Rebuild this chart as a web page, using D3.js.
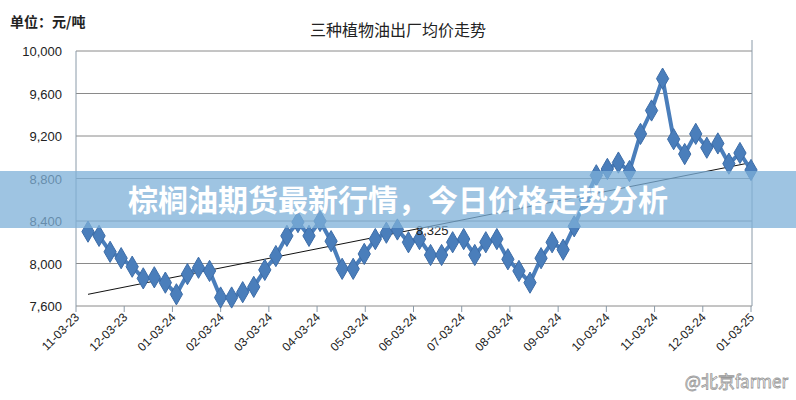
<!DOCTYPE html><html><head><meta charset="utf-8"><script src="https://cdn.jsdelivr.net/npm/d3@7"></script>
<style>body{margin:0;background:#fff}</style></head><body><svg id="c" width="796" height="400"></svg><script>
const values=[8300,8260,8110,8050,7970,7860,7870,7820,7710,7900,7960,7930,7680,7680,7730,7780,7940,8070,8260,8390,8260,8400,8210,7950,7950,8090,8230,8290,8320,8200,8230,8080,8080,8200,8230,8080,8200,8230,8040,7930,7820,8050,8200,8130,8350,8600,8830,8890,8950,8870,9220,9440,9740,9170,9030,9220,9090,9130,8940,9040,8880];
const monthLabels=["11-03-23","12-03-23","01-03-24","02-03-24","03-03-24","04-03-24","05-03-24","06-03-24","07-03-24","08-03-24","09-03-24","10-03-24","11-03-24","12-03-24","01-03-25"];
const yTicks=[7600,8000,8400,8800,9200,9600,10000];
const trend=[7710,8950];
const svg=d3.select("#c");
const y=d3.scaleLinear().domain([7600,10000]).range([306,51]);
const x=d3.scaleLinear().domain([0,values.length-1]).range([88,751]);
const xt=d3.scalePoint().domain(monthLabels).range([76,751]);
svg.append("g").selectAll("line").data(yTicks).join("line").attr("x1",76).attr("x2",752).attr("y1",d=>y(d)).attr("y2",d=>y(d)).attr("stroke","#8a8a8a").attr("stroke-width",1);
svg.append("line").attr("x1",76).attr("x2",76).attr("y1",51).attr("y2",306).attr("stroke","#8a9aa8");
svg.append("line").attr("x1",752).attr("x2",752).attr("y1",40).attr("y2",306).attr("stroke","#8a9aa8");
svg.append("g").selectAll("text").data(yTicks).join("text").attr("x",62).attr("y",d=>y(d)+5).attr("text-anchor","end").attr("font-family","Liberation Sans, Arial").attr("font-size",13).attr("fill","#222").text(d=>d3.format(",")(d));
const xa=svg.append("g");
xa.selectAll("line").data(monthLabels).join("line").attr("x1",d=>xt(d)).attr("x2",d=>xt(d)).attr("y1",306).attr("y2",312).attr("stroke","#8a9aa8");
xa.selectAll("text").data(monthLabels).join("text").attr("transform",d=>`translate(${xt(d)+4},318) rotate(-45)`).attr("text-anchor","end").attr("font-family","Liberation Sans, Arial").attr("font-size",12).attr("fill","#222").text(d=>d);
svg.append("line").attr("x1",x(0)).attr("x2",x(values.length-1)).attr("y1",y(trend[0])).attr("y2",y(trend[1])).attr("stroke","#111").attr("stroke-width",1);
svg.append("path").datum(values).attr("d",d3.line().x((d,i)=>x(i)).y(d=>y(d))).attr("fill","none").attr("stroke","#4a7ebb").attr("stroke-width",4);
svg.append("g").selectAll("path").data(values).join("path").attr("transform",(d,i)=>`translate(${x(i)},${y(d)})`).attr("d",d3.symbol(d3.symbolDiamond,130)).attr("fill","#4a7ebb").attr("stroke","#3d6da8");
svg.append("text").attr("x",416).attr("y",235).attr("font-family","Liberation Sans, Arial").attr("font-size",13).attr("fill","#222").text("8,325");
svg.append("text").attr("x",398).attr("y",36).attr("text-anchor","middle").attr("font-family","Noto Sans CJK SC").attr("font-size",16).attr("fill","#222").text("三种植物油出厂均价走势");
svg.append("text").attr("x",10).attr("y",27).attr("font-family","Noto Sans CJK SC").attr("font-size",14).attr("font-weight","bold").attr("fill","#222").text("单位：元/吨");
svg.append("rect").attr("x",0).attr("y",171).attr("width",796).attr("height",57).attr("fill","#7eb0d8").attr("opacity",0.75);
svg.append("text").attr("x",398).attr("y",211).attr("text-anchor","middle").attr("font-family","Noto Sans CJK SC").attr("font-size",30).attr("font-weight","bold").attr("fill","#fff").text("棕榈油期货最新行情，今日价格走势分析");
svg.append("text").attr("x",788).attr("y",388).attr("text-anchor","end").attr("font-family","Noto Sans CJK SC").attr("font-size",17).attr("fill","#fff").attr("stroke","#999").attr("stroke-width",0.8).text("@北京farmer");
</script></body></html>
